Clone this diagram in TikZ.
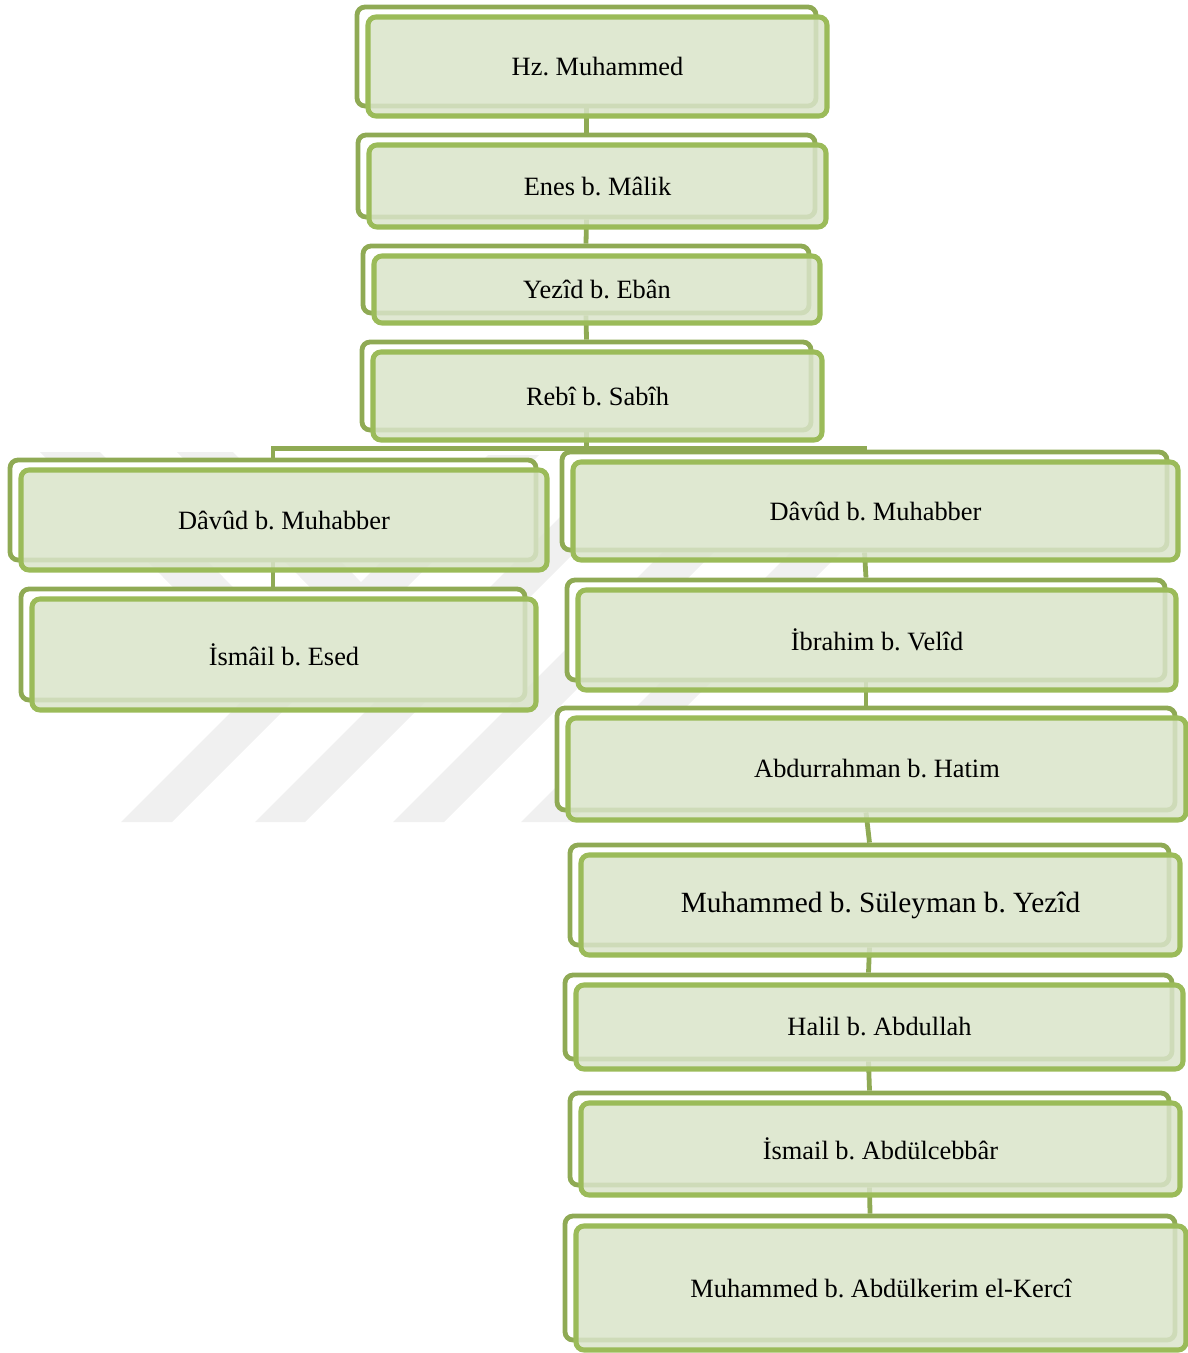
\documentclass[tikz,border=0pt]{standalone}
\usepackage{fontspec}
\setmainfont{Liberation Serif}
\usetikzlibrary{calc}
\definecolor{frontfill}{HTML}{DAE4CA}
\definecolor{frontline}{HTML}{9BBB59}
\definecolor{backline}{HTML}{8FAA54}
\definecolor{wmark}{HTML}{F0F0F0}
\tikzset{
  sz/.style 2 args={minimum width=#1*0.75pt, minimum height=#2*0.75pt},
  backbox/.style={draw=backline, fill=white, line width=3.6pt, rounded corners=6pt, inner sep=0pt},
  frontbox/.style={draw=frontline, fill=frontfill, fill opacity=0.85, draw opacity=1, text opacity=1,
    line width=3.8pt, rounded corners=6pt, inner sep=0pt, align=center,
    font=\fontsize{19.8pt}{24pt}\selectfont},
  bigtext/.style={font=\fontsize{22pt}{26pt}\selectfont},
  conn/.style={draw=backline, line width=3.6pt},
  wm/.style={fill=wmark, draw=none},
}
\begin{document}
\frenchspacing
\begin{tikzpicture}[x=0.75pt,y=-0.75pt]
\useasboundingbox (0,0) rectangle (1188,1353);
% watermark
\fill[wm] (121,822) -- (172,822) -- (539,455) -- (488,455) -- cycle;
\fill[wm] (255,822) -- (305,822) -- (672,455) -- (622,455) -- cycle;
\fill[wm] (393,822) -- (444,822) -- (811,455) -- (760,455) -- cycle;
\fill[wm] (521,822) -- (571,822) -- (938,455) -- (888,455) -- cycle;
\fill[wm] (40,452) -- (100,452) -- (285,640) -- (225,640) -- cycle;
\fill[wm] (177,452) -- (233,452) -- (418,640) -- (362,640) -- cycle;
% back boxes
\node[backbox, sz={459}{99}]  (b1)  at (586.5,56.5) {};
\node[backbox, sz={457}{82}]  (b2)  at (586.5,176) {};
\node[backbox, sz={446}{67}]  (b3)  at (586,279.5) {};
\node[backbox, sz={449}{88}]  (b4)  at (586.5,386) {};
\node[backbox, sz={526}{100}] (b5)  at (273,510) {};
\node[backbox, sz={504}{111}] (b6)  at (273,644.5) {};
\node[backbox, sz={605}{98}]  (b7)  at (864.5,501) {};
\node[backbox, sz={598}{100}] (b8)  at (866,630) {};
\node[backbox, sz={618}{102}] (b9)  at (866,759) {};
\node[backbox, sz={599}{100}] (b10) at (869.5,895) {};
\node[backbox, sz={607}{84}]  (b11) at (868.5,1017) {};
\node[backbox, sz={599}{92}]  (b12) at (869.5,1139) {};
\node[backbox, sz={610}{124}] (b13) at (870,1278) {};
% connectors
\draw[conn] (b1.south) -- (b2.north);
\draw[conn] (b2.south) -- (b3.north);
\draw[conn] (b3.south) -- (b4.north);
\coordinate (br) at ($(b4.south)+(0,16)$);
\draw[conn] (b4.south) -- (br);
\draw[conn] (b5.north) |- (br) -| (b7.north);
\draw[conn] (b5.south) -- (b6.north);
\draw[conn] (b7.south) -- (b8.north);
\draw[conn] (b8.south) -- (b9.north);
\draw[conn] (b9.south) -- (b10.north);
\draw[conn] (b10.south) -- (b11.north);
\draw[conn] (b11.south) -- (b12.north);
\draw[conn] (b12.south) -- (b13.north);
% front boxes
\node[frontbox, sz={459}{99}]  (f1)  at (597.5,66.5) {Hz. Muhammed};
\node[frontbox, sz={457}{82}]  (f2)  at (597.5,186) {Enes b. Mâlik};
\node[frontbox, sz={446}{67}]  (f3)  at (597,289.5) {Yezîd b. Ebân};
\node[frontbox, sz={449}{88}]  (f4)  at (597.5,396) {Rebî b. Sabîh};
\node[frontbox, sz={526}{100}] (f5)  at (284,520) {Dâvûd b. Muhabber};
\node[frontbox, sz={504}{111}] (f6)  at (284,654.5) {İsmâil b. Esed};
\node[frontbox, sz={605}{98}]  (f7)  at (875.5,511) {Dâvûd b. Muhabber};
\node[frontbox, sz={598}{100}] (f8)  at (877,640) {İbrahim b. Velîd};
\node[frontbox, sz={618}{102}] (f9)  at (877,769) {Abdurrahman b. Hatim};
\node[frontbox, bigtext, sz={599}{100}] (f10) at (880.5,905) {Muhammed b. Süleyman b. Yezîd};
\node[frontbox, sz={607}{84}]  (f11) at (879.5,1027) {Halil b. Abdullah};
\node[frontbox, sz={599}{92}]  (f12) at (880.5,1149) {İsmail b. Abdülcebbâr};
\node[frontbox, sz={610}{124}] (f13) at (881,1288) {Muhammed b. Abdülkerim el-Kercî};
\end{tikzpicture}
\end{document}
